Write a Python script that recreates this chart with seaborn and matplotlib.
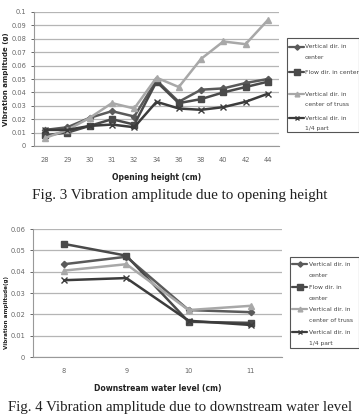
import pandas as pd
import numpy as np
import matplotlib
matplotlib.use("Agg")
import matplotlib.pyplot as plt
from matplotlib.lines import Line2D
from matplotlib.patches import Rectangle
import seaborn as sns

# Fig. 3 data
opening = ["28", "29", "30", "31", "32", "34", "36", "38", "40", "42", "44"]
vert_center_3 = [0.012, 0.014, 0.021, 0.026, 0.022, 0.049, 0.033, 0.042, 0.043, 0.047, 0.050]
flow_center_3 = [0.008, 0.010, 0.015, 0.020, 0.016, 0.048, 0.032, 0.035, 0.040, 0.044, 0.048]
vert_truss_3 = [0.006, 0.012, 0.021, 0.032, 0.028, 0.051, 0.044, 0.065, 0.078, 0.076, 0.094]
vert_quarter_3 = [0.012, 0.012, 0.015, 0.016, 0.014, 0.033, 0.028, 0.027, 0.029, 0.033, 0.039]

# Fig. 4 data
downstream = ["8", "9", "10", "11"]
vert_center_4 = [0.0435, 0.047, 0.022, 0.021]
flow_center_4 = [0.053, 0.0475, 0.0165, 0.016]
vert_truss_4 = [0.0405, 0.0435, 0.022, 0.024]
vert_quarter_4 = [0.036, 0.037, 0.017, 0.015]

labels_3 = [["Vertical dir. in", "center"], ["Flow dir. in center"],
            ["Vertical dir. in", "center of truss"], ["Vertical dir. in", "1/4 part"]]
labels_4 = [["Vertical dir. in", "center"], ["Flow dir. in", "center"],
            ["Vertical dir. in", "center of truss"], ["Vertical dir. in", "1/4 part"]]

colors = ["#5a5a5a", "#4a4a4a", "#a8a8a8", "#3c3c3c"]
markers = ["D", "s", "^", "x"]
msizes = [3.2, 4.8, 4, 4.2]

sns.set_style("white")
plt.rcParams["font.family"] = ["DejaVu Sans"]

fig = plt.figure(figsize=(3.59, 4.15), dpi=100)
W, H = 359, 415


def fx(x):
    return x / W


def fy(y):
    return 1 - y / H


def legend_box(box, entry_y, line_gap, handle_x, text_x, labels):
    # box drawn in figure pixels, Excel style: one slot per series
    x0, y0, x1, y1 = box
    fig.add_artist(Rectangle((fx(x0), fy(y1)), fx(x1) - fx(x0), fy(y0) - fy(y1),
                             transform=fig.transFigure, fill=False,
                             edgecolor="#555555", linewidth=0.8))
    for i, lab in enumerate(labels):
        y = entry_y[i]
        fig.add_artist(Line2D([fx(handle_x[0]), fx(sum(handle_x) / 2), fx(handle_x[1])],
                              [fy(y)] * 3, transform=fig.transFigure,
                              color=colors[i], linewidth=1.6, marker=markers[i],
                              markersize=msizes[i] * 0.85, markevery=[1],
                              markeredgecolor=colors[i]))
        for j, line in enumerate(lab):
            fig.text(fx(text_x), fy(y + j * line_gap), line, fontsize=4.3,
                     color="#444444", ha="left", va="center")


def panel(rect, cats, series, ymax, ystep, xlabel, ylabel, ylab_size, ylab_pos):
    ax = fig.add_axes([fx(rect[0]), fy(rect[3]), fx(rect[2] - rect[0]), (rect[3] - rect[1]) / H])
    for i, vals in enumerate(series):
        df = pd.DataFrame({"x": cats, "y": vals})
        sns.lineplot(data=df, x="x", y="y", ax=ax, color=colors[i], marker=markers[i],
                     markersize=msizes[i], linewidth=1.8, markeredgecolor=colors[i],
                     markeredgewidth=1.0, sort=False, legend=False)
    ticks = np.round(np.arange(0, ymax + ystep / 2, ystep), 3)
    ax.set_ylim(0, ymax)
    ax.set_yticks(ticks)
    ax.set_yticklabels(["%g" % v for v in ticks])
    ax.set_xlim(-0.5, len(cats) - 0.5)
    ax.yaxis.grid(True, color="#b5b5b5", linewidth=0.9)
    ax.tick_params(axis="y", labelsize=4.8, colors="#666666", length=2.5, width=0.7,
                   direction="out", left=True, pad=3)
    ax.tick_params(axis="x", labelsize=4.8, colors="#666666", length=0, pad=8)
    for s in ["top", "right"]:
        ax.spines[s].set_visible(False)
    ax.spines["left"].set_color("#999999")
    ax.spines["bottom"].set_color("#999999")
    ax.set_xlabel(xlabel, fontsize=5.5, fontweight="bold", color="#222222", labelpad=7)
    ax.set_ylabel(ylabel, fontsize=ylab_size, fontweight="bold", color="#222222")
    ax.yaxis.set_label_coords(*ylab_pos)
    return ax


panel((34, 12, 279, 146), opening, [vert_center_3, flow_center_3, vert_truss_3, vert_quarter_3],
      0.1, 0.01, "Opening height (cm)", "Vibration amplitude (g)", 5.0, (-0.1, 0.5))
legend_box((287, 38, 358.5, 132), [47, 72, 94, 118], 10.5, (289, 304), 305, labels_3)

panel((33, 229, 282, 357), downstream, [vert_center_4, flow_center_4, vert_truss_4, vert_quarter_4],
      0.06, 0.01, "Downstream water level (cm)", "Vibration amplitude(g)", 4.1, (-0.098, 0.35))
legend_box((290, 257, 358.5, 348), [264, 287, 309, 332], 11, (292, 307), 309, labels_4)

fig.text(180 / W, 1 - 195 / H, "Fig. 3 Vibration amplitude due to opening height",
         ha="center", va="center", fontsize=10.9, family="Liberation Serif", color="#222222")
fig.text(180.5 / W, 1 - 407 / H, "Fig. 4 Vibration amplitude due to downstream water level",
         ha="center", va="center", fontsize=10.7, family="Liberation Serif", color="#222222")

fig.savefig("out.png", dpi=100)
